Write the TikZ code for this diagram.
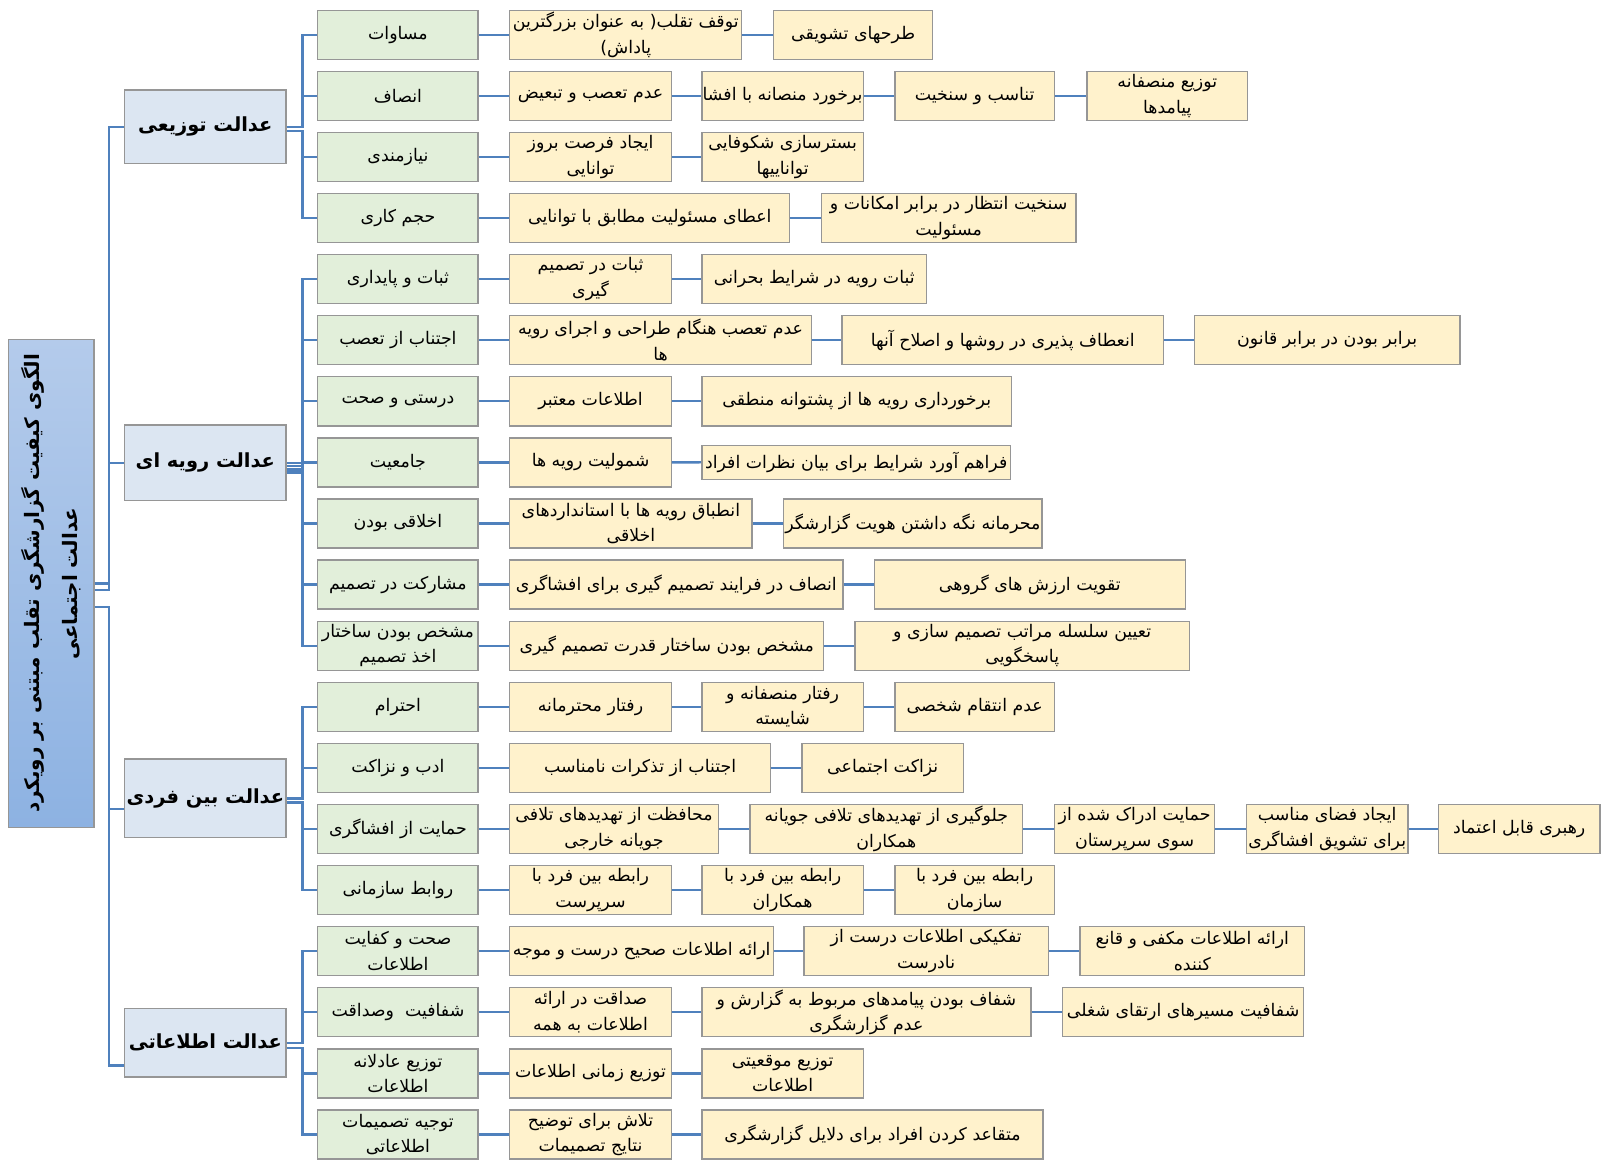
\documentclass[tikz,border=0pt]{standalone}
\usepackage{fontspec}
\TeXXeTstate=1
\newfontfamily\fafont[Script=Arabic]{DejaVu Sans}
\newcommand\fa[1]{\beginR #1\endR}
\definecolor{cblue}{RGB}{79,129,189}
\definecolor{bgray}{RGB}{150,150,150}
\definecolor{gfill}{RGB}{226,239,218}
\definecolor{yfill}{RGB}{255,242,204}
\definecolor{lfill}{RGB}{220,230,242}
\definecolor{rtop}{RGB}{180,203,235}
\definecolor{rbot}{RGB}{141,178,226}
\tikzset{
  conn/.style={draw=cblue,line width=2.3pt},
  boxbase/.style={draw=bgray,line width=1.3pt,inner sep=0pt,align=center,
    font=\fafont\fontsize{17}{25}\selectfont,minimum height=48pt},
  gbox/.style={boxbase,fill=gfill,minimum width=157pt},
  ybox/.style={boxbase,fill=yfill},
  lbox/.style={boxbase,fill=lfill,minimum width=158pt,
    font=\fafont\bfseries\fontsize{19}{22}\selectfont},
}
\newcommand\yb[5]{\node[ybox,minimum width={(#3-#2)*1pt}] (#1) at ({(#2+#3)/2},{34+(#4-1)*59.8}) {#5};}
\newcommand\gb[3]{\node[gbox] (#1) at (389.5,{34+(#2-1)*59.8}) {#3};}
\newcommand\cn[2]{\draw[conn] (#1.east) -- (#2.west);}
\newcommand\br[3]{\path ([yshift=#2pt]#1.east) coordinate (tmp);
  \draw[conn] (tmp) -- (tmp -| brk) |- (#3.west);}
\begin{document}
\begin{tikzpicture}[x=1pt,y=-1pt]
\useasboundingbox (0,0) rectangle (1568,1135);
\fill[white] (0,0) rectangle (1568,1135);
\coordinate (trk) at (107,0);
\coordinate (brk) at (296,0);

% root
\node[draw=bgray,line width=1.3pt,top color=rtop,bottom color=rbot,rotate=90,
  minimum width=478pt,minimum height=84pt,inner sep=2pt,align=center,
  font=\fafont\bfseries\fontsize{19.5}{37}\selectfont] (root) at (50,571)
  {\fa{الگوی کیفیت گزارشگری تقلب مبتنی بر رویکرد}\\\fa{عدالت اجتماعی}};

% level 1
\node[lbox,minimum height=72pt] (L1) at (201,124) {\fa{عدالت توزیعی}};
\node[lbox,minimum height=74pt] (L2) at (201,453) {\fa{عدالت رویه ای}};
\node[lbox,minimum height=77pt] (L3) at (201,781.5) {\fa{عدالت بین فردی}};
\node[lbox,minimum height=67pt] (L4) at (201,1020.5) {\fa{عدالت اطلاعاتی}};

% root to level 1
\path (root.south) coordinate (ra);
\path ([yshift=-6.5pt]root.south) coordinate (rb);
\path ([yshift=-23pt]root.south) coordinate (rc);
\draw[conn] (ra) -- (ra -| trk) |- (L1.west);
\draw[conn] (rb) -- (rb -| trk) |- (L2.west);
\draw[conn] (rc) -- (rc -| trk) |- ([yshift=-10.5pt]L3.west);
\draw[conn] (rc) -- (rc -| trk) |- ([yshift=-22.5pt]L4.west);

% green boxes
\gb{G1}{1}{\fa{مساوات}}
\gb{G2}{2}{\fa{انصاف}}
\gb{G3}{3}{\fa{نیازمندی}}
\gb{G4}{4}{\fa{حجم کاری}}
\gb{G5}{5}{\fa{ثبات و پایداری}}
\gb{G6}{6}{\fa{اجتناب از تعصب}}
\gb{G7}{7}{\fa{درستی و صحت}}
\gb{G8}{8}{\fa{جامعیت}}
\gb{G9}{9}{\fa{اخلاقی بودن}}
\gb{G10}{10}{\fa{مشارکت در تصمیم}}
\gb{G11}{11}{\fa{مشخص بودن ساختار}\\\fa{اخذ تصمیم}}
\gb{G12}{12}{\fa{احترام}}
\gb{G13}{13}{\fa{ادب و نزاکت}}
\gb{G14}{14}{\fa{حمایت از افشاگری}}
\gb{G15}{15}{\fa{روابط سازمانی}}
\gb{G16}{16}{\fa{صحت و کفایت}\\\fa{اطلاعات}}
\gb{G17}{17}{\fa{شفافیت\ \ وصداقت}}
\gb{G18}{18}{\fa{توزیع عادلانه}\\\fa{اطلاعات}}
\gb{G19}{19}{\fa{توجیه تصمیمات}\\\fa{اطلاعاتی}}

% level 1 to green
\br{L1}{-0.5}{G1} \br{L1}{-0.5}{G2} \br{L1}{-4.5}{G3} \br{L1}{-4.5}{G4}
\br{L2}{0}{G5} \br{L2}{-3.2}{G6} \br{L2}{-6.4}{G7} \br{L2}{-9.6}{G8}
\br{L2}{-9.6}{G9} \br{L2}{-6.4}{G10} \br{L2}{-3.2}{G11}
\br{L3}{0}{G12} \br{L3}{0}{G13} \br{L3}{-4}{G14} \br{L3}{-4}{G15}
\br{L4}{-0.5}{G16} \br{L4}{-0.5}{G17} \br{L4}{-5}{G18} \br{L4}{-5}{G19}

% yellow boxes
\yb{Y1a}{499}{726}{1}{\fa{توقف تقلب( به عنوان بزرگترین}\\\fa{پاداش)}}
\yb{Y1b}{757}{913}{1}{\fa{طرحهای تشویقی}}
\yb{Y2a}{499}{657}{2}{\fa{عدم تعصب و تبعیض}}
\yb{Y2b}{687}{845}{2}{\fa{برخورد منصانه با افشا}}
\yb{Y2c}{876}{1032}{2}{\fa{تناسب و سنخیت}}
\yb{Y2d}{1064}{1221}{2}{\fa{توزیع منصفانه}\\\fa{پیامدها}}
\yb{Y3a}{499}{657}{3}{\fa{ایجاد فرصت بروز}\\\fa{توانایی}}
\yb{Y3b}{687}{845}{3}{\fa{بسترسازی شکوفایی}\\\fa{تواناییها}}
\yb{Y4a}{499}{773}{4}{\fa{اعطای مسئولیت مطابق با توانایی}}
\yb{Y4b}{804}{1053}{4}{\fa{سنخیت انتظار در برابر امکانات و}\\\fa{مسئولیت}}
\yb{Y5a}{499}{657}{5}{\fa{ثبات در تصمیم}\\\fa{گیری}}
\yb{Y5b}{687}{907}{5}{\fa{ثبات رویه در شرایط بحرانی}}
\yb{Y6a}{499}{794}{6}{\fa{عدم تعصب هنگام طراحی و اجرای رویه}\\\fa{ها}}
\yb{Y6b}{824}{1139}{6}{\fa{انعطاف پذیری در روشها و اصلاح آنها}}
\yb{Y6c}{1169}{1429}{6}{\fa{برابر بودن در برابر قانون}}
\yb{Y7a}{499}{657}{7}{\fa{اطلاعات معتبر}}
\yb{Y7b}{687}{990}{7}{\fa{برخورداری رویه ها از پشتوانه منطقی}}
\yb{Y8a}{499}{657}{8}{\fa{شمولیت رویه ها}}
\node[ybox,minimum width=302pt,minimum height=33pt] (Y8b) at (838,452.5) {\fa{فراهم آورد شرایط برای بیان نظرات افراد}};
\yb{Y9a}{499}{736}{9}{\fa{انطباق رویه ها با استانداردهای}\\\fa{اخلاقی}}
\yb{Y9b}{767}{1020}{9}{\fa{محرمانه نگه داشتن هویت گزارشگر}}
\yb{Y10a}{499}{825}{10}{\fa{انصاف در فرایند تصمیم گیری برای افشاگری}}
\yb{Y10b}{856}{1160}{10}{\fa{تقویت ارزش های گروهی}}
\yb{Y11a}{499}{806}{11}{\fa{مشخص بودن ساختار قدرت تصمیم گیری}}
\yb{Y11b}{837}{1164}{11}{\fa{تعیین سلسله مراتب تصمیم سازی و}\\\fa{پاسخگویی}}
\yb{Y12a}{499}{657}{12}{\fa{رفتار محترمانه}}
\yb{Y12b}{687}{845}{12}{\fa{رفتار منصفانه و}\\\fa{شایسته}}
\yb{Y12c}{876}{1032}{12}{\fa{عدم انتقام شخصی}}
\yb{Y13a}{499}{754}{13}{\fa{اجتناب از تذکرات نامناسب}}
\yb{Y13b}{785}{943}{13}{\fa{نزاکت اجتماعی}}
\yb{Y14a}{499}{703}{14}{\fa{محافظت از تهدیدهای تلافی}\\\fa{جویانه خارجی}}
\yb{Y14b}{734}{1001}{14}{\fa{جلوگیری از تهدیدهای تلافی جویانه}\\\fa{همکاران}}
\yb{Y14c}{1032}{1189}{14}{\fa{حمایت ادراک شده از}\\\fa{سوی سرپرستان}}
\yb{Y14d}{1220}{1378}{14}{\fa{ایجاد فضای مناسب}\\\fa{برای تشویق افشاگری}}
\yb{Y14e}{1408}{1566}{14}{\fa{رهبری قابل اعتماد}}
\yb{Y15a}{499}{657}{15}{\fa{رابطه بین فرد با}\\\fa{سرپرست}}
\yb{Y15b}{687}{845}{15}{\fa{رابطه بین فرد با}\\\fa{همکاران}}
\yb{Y15c}{876}{1032}{15}{\fa{رابطه بین فرد با}\\\fa{سازمان}}
\yb{Y16a}{499}{757}{16}{\fa{ارائه اطلاعات صحیح درست و موجه}}
\yb{Y16b}{787}{1026}{16}{\fa{تفکیکی اطلاعات درست از}\\\fa{نادرست}}
\yb{Y16c}{1057}{1277}{16}{\fa{ارائه اطلاعات مکفی و قانع}\\\fa{کننده}}
\yb{Y17a}{499}{657}{17}{\fa{صداقت در ارائه}\\\fa{اطلاعات به همه}}
\yb{Y17b}{687}{1009}{17}{\fa{شفاف بودن پیامدهای مربوط به گزارش و}\\\fa{عدم گزارشگری}}
\yb{Y17c}{1040}{1276}{17}{\fa{شفافیت مسیرهای ارتقای شغلی}}
\yb{Y18a}{499}{657}{18}{\fa{توزیع زمانی اطلاعات}}
\yb{Y18b}{687}{845}{18}{\fa{توزیع موقعیتی}\\\fa{اطلاعات}}
\yb{Y19a}{499}{657}{19}{\fa{تلاش برای توضیح}\\\fa{نتایج تصمیمات}}
\yb{Y19b}{687}{1021}{19}{\fa{متقاعد کردن افراد برای دلایل گزارشگری}}

% row connectors
\cn{G1}{Y1a} \cn{Y1a}{Y1b}
\cn{G2}{Y2a} \cn{Y2a}{Y2b} \cn{Y2b}{Y2c} \cn{Y2c}{Y2d}
\cn{G3}{Y3a} \cn{Y3a}{Y3b}
\cn{G4}{Y4a} \cn{Y4a}{Y4b}
\cn{G5}{Y5a} \cn{Y5a}{Y5b}
\cn{G6}{Y6a} \cn{Y6a}{Y6b} \cn{Y6b}{Y6c}
\cn{G7}{Y7a} \cn{Y7a}{Y7b}
\cn{G8}{Y8a} \cn{Y8a}{Y8b}
\cn{G9}{Y9a} \cn{Y9a}{Y9b}
\cn{G10}{Y10a} \cn{Y10a}{Y10b}
\cn{G11}{Y11a} \cn{Y11a}{Y11b}
\cn{G12}{Y12a} \cn{Y12a}{Y12b} \cn{Y12b}{Y12c}
\cn{G13}{Y13a} \cn{Y13a}{Y13b}
\cn{G14}{Y14a} \cn{Y14a}{Y14b} \cn{Y14b}{Y14c} \cn{Y14c}{Y14d} \cn{Y14d}{Y14e}
\cn{G15}{Y15a} \cn{Y15a}{Y15b} \cn{Y15b}{Y15c}
\cn{G16}{Y16a} \cn{Y16a}{Y16b} \cn{Y16b}{Y16c}
\cn{G17}{Y17a} \cn{Y17a}{Y17b} \cn{Y17b}{Y17c}
\cn{G18}{Y18a} \cn{Y18a}{Y18b}
\cn{G19}{Y19a} \cn{Y19a}{Y19b}
\end{tikzpicture}
\end{document}
